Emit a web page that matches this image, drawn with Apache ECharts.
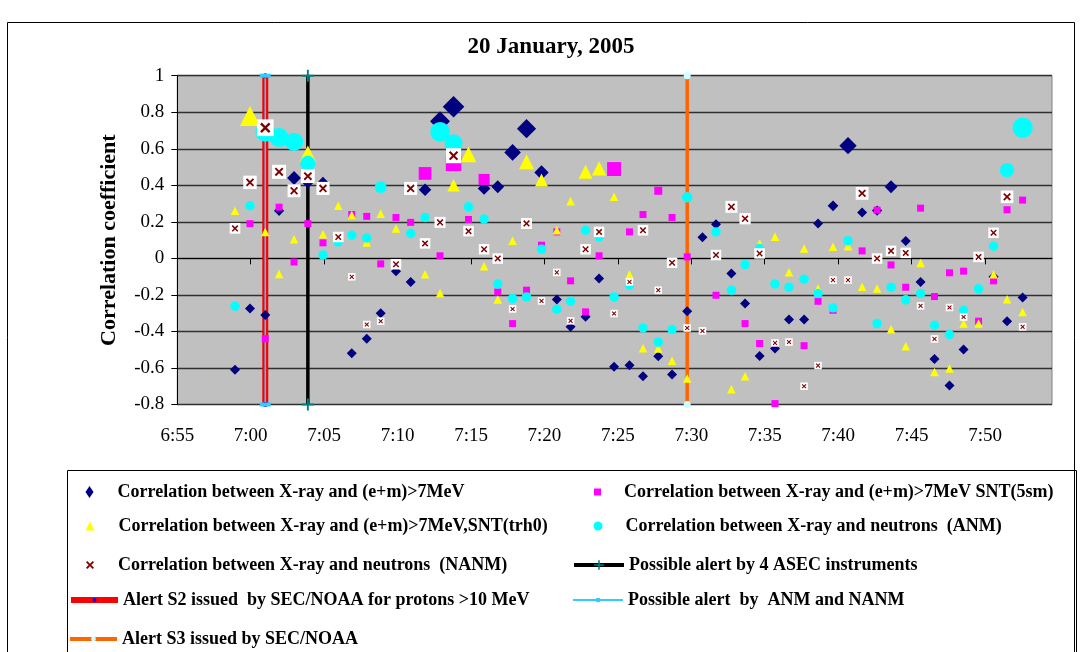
<!DOCTYPE html>
<html><head><meta charset="utf-8">
<script src="https://cdn.jsdelivr.net/npm/echarts@6/dist/echarts.min.js"></script>
<style>html,body{margin:0;padding:0;background:#fff}#c{width:1080px;height:652px}</style>
</head><body><div id="c"></div>
<script>
// x values are minutes after 6:55
const tickLabels = ['6:55','7:00','7:05','7:10','7:15','7:20','7:25','7:30','7:35','7:40','7:45','7:50'];
const times = [3.93,4.95,5.99,6.93,7.95,8.89,9.92,10.96,11.88,12.90,13.85,14.89,15.89,16.87,17.89,18.81,19.83,20.89,21.82,22.83,23.78,24.80,25.84,26.78,27.80,28.72,29.74,30.79,31.71,32.75,33.69,34.72,35.76,36.68,37.73,38.66,39.65,40.70,41.65,42.68,43.63,44.65,45.67,46.63,47.65,48.60,49.60,50.61,51.56,52.58,53.54,54.56,55.58,56.50,57.56];
const emValues = [-0.61,-0.275,-0.31,0.26,0.44,0.42,0.41,null,-0.52,-0.44,-0.30,-0.07,-0.13,0.375,0.75,0.83,null,0.383,0.392,0.58,0.71,0.47,-0.225,-0.375,-0.32,-0.11,-0.594,-0.585,-0.645,-0.536,-0.636,-0.289,0.115,0.187,-0.083,-0.247,-0.534,-0.494,-0.335,-0.335,0.191,0.288,0.617,0.251,0.262,0.392,0.095,-0.129,-0.551,-0.696,-0.499,null,-0.10,-0.344,-0.214];
const snt5smValues = [null,0.19,-0.44,0.28,-0.02,0.19,0.085,null,0.24,0.23,-0.03,0.224,0.197,0.465,0.014,0.52,0.213,0.432,-0.184,-0.357,-0.174,0.072,0.145,-0.123,-0.293,0.014,0.489,0.145,0.24,0.37,0.224,0.008,null,-0.202,null,-0.357,-0.466,-0.795,null,-0.478,-0.235,-0.284,null,0.041,0.264,-0.036,-0.158,0.275,-0.209,-0.079,-0.07,-0.344,-0.123,0.266,0.319];
const trh0Values = [0.26,0.78,0.145,-0.086,0.105,0.575,0.132,0.288,0.237,0.087,0.244,0.164,null,-0.087,-0.189,0.40,0.569,-0.043,-0.225,0.097,0.529,0.429,0.154,0.313,0.474,0.493,0.337,-0.088,-0.492,-0.494,-0.561,-0.658,null,null,-0.717,-0.645,0.082,0.118,-0.076,0.054,-0.165,0.063,0.067,-0.156,-0.165,-0.388,-0.481,-0.025,-0.622,-0.603,-0.357,-0.357,-0.087,-0.224,-0.293];
const anmValues = [-0.262,0.288,0.693,0.662,0.638,0.52,0.018,0.09,0.127,0.112,0.39,null,0.136,0.224,0.693,0.63,0.282,0.215,-0.141,-0.22,-0.211,0.05,-0.278,-0.235,0.154,0.118,-0.211,-0.147,-0.381,-0.459,-0.39,0.335,null,0.145,-0.174,-0.034,0.054,-0.141,-0.158,-0.114,-0.193,-0.271,0.097,null,-0.357,-0.158,-0.227,-0.193,-0.366,-0.417,-0.284,-0.167,0.067,0.483,0.715];
const nanmValues = [0.164,0.416,0.715,0.474,0.37,0.45,0.383,0.117,-0.101,-0.362,-0.344,-0.032,0.383,0.082,0.197,0.562,0.149,0.05,-0.001,-0.277,0.191,-0.233,-0.077,-0.342,0.05,0.145,-0.302,-0.129,0.154,-0.174,-0.024,-0.381,-0.397,0.018,0.282,0.217,0.027,-0.463,-0.458,-0.7,-0.587,-0.119,-0.119,0.356,-0.001,0.041,0.03,-0.26,-0.441,-0.269,-0.321,0.008,0.14,0.337,-0.375];
// alert markers (minutes after 6:55) and vertical span
const asecAlertTime = 8.89;
const s2AlertTime = 5.99;
const anmAlertTime = 5.99;
const s3AlertTime = 34.72;
const yTop = 1, yBottom = -0.8;

const names = {
  em: 'Correlation between X-ray and (e+m)>7MeV',
  s5: 'Correlation between X-ray and (e+m)>7MeV SNT(5sm)',
  trh: 'Correlation between X-ray and (e+m)>7MeV,SNT(trh0)',
  anm: 'Correlation between X-ray and neutrons  (ANM)',
  nanm: 'Correlation between X-ray and neutrons  (NANM)',
  asec: 'Possible alert by 4 ASEC instruments',
  s2: 'Alert S2 issued  by SEC/NOAA for protons >10 MeV',
  anmAlert: 'Possible alert  by  ANM and NANM',
  s3: 'Alert S3 issued by SEC/NOAA'
};

function pairs(vals){ const out=[]; vals.forEach((v,i)=>{ if(v!==null) out.push([times[i], v]); }); return out; }
function vline(t){ return [[t, yTop],[t, yBottom]]; }

const FONT = 'Liberation Serif';
const X_PATH = 'path://M0,1.6 L1.6,0 L5,3.4 L8.4,0 L10,1.6 L6.6,5 L10,8.4 L8.4,10 L5,6.6 L1.6,10 L0,8.4 L3.4,5 Z';
const PLUS_PATH = 'path://M4.2,0 L5.8,0 L5.8,4.2 L10,4.2 L10,5.8 L5.8,5.8 L5.8,10 L4.2,10 L4.2,5.8 L0,5.8 L0,4.2 L4.2,4.2 Z';

const navySize = v => 10 + Math.max(0, v - 0.25) * 20;
const magSize = v => 7 + Math.max(0, v - 0.35) * 50;
const yelSize = v => v > 0.38 ? 12 + (v - 0.38) * 20 : 8.5;
const cyanSize = v => 9.5 + Math.max(0, v - 0.3) * 26;
const boxSize = v => v < -0.05 ? 7.5 : 10.5 + Math.max(0, v - 0.15) * 11;

const legText = {fontFamily: FONT, fontWeight: 'bold', fontSize: 18, color: '#000'};
function leg(name, left, top, w, h, pad, lw){
  const o = {data:[name], left:left, top:top, itemWidth:w, itemHeight:h, padding:0, selectedMode:false,
    textStyle:Object.assign({}, legText, {padding:[0,0,0,pad]})};
  if (lw) o.lineStyle = {width: lw};
  return o;
}

const chart = echarts.init(document.getElementById('c'));
chart.setOption({
  animation:false,
  backgroundColor:'#fff',
  title:{text:'20 January, 2005', left:546, top:31, textAlign:'center',
    textStyle:{fontFamily:FONT, fontWeight:'bold', fontSize:23, color:'#000'}},
  graphic:[
    {type:'rect', z:-1, shape:{x:7.5,y:22.5,width:1067,height:700}, style:{fill:'none', stroke:'#000', lineWidth:1}},
    {type:'rect', z:-1, shape:{x:67.5,y:470.5,width:1009,height:300}, style:{fill:'none', stroke:'#000', lineWidth:1}}
  ],
  legend:[
    leg(names.em, 85.5, 483, 8, 12, 19),
    leg(names.s5, 594, 483, 7, 7, 18),
    leg(names.trh, 85.5, 517, 9, 9, 19),
    leg(names.anm, 593.5, 517, 9, 9, 18),
    leg(names.nanm, 86, 556, 8, 8, 19),
    leg(names.asec, 572, 556, 50, 12, 0, 4),
    leg(names.s2, 68, 591, 47, 5, 0, 6),
    leg(names.anmAlert, 572, 591, 50, 5, 0, 2),
    leg(names.s3, 68, 630, 47, 6, 0, 4)
  ],
  grid:{left:177.3, right:28, top:75.7, bottom:247.5, show:true, backgroundColor:'#C0C0C0', borderColor:'#808080', borderWidth:1},
  xAxis:{type:'value', min:0, max:59.56, interval:5,
    axisLine:{lineStyle:{color:'#000', width:1}},
    axisTick:{show:true, length:6, inside:false, lineStyle:{color:'#000'}},
    axisLabel:{margin:22, showMaxLabel:false, fontFamily:FONT, fontSize:19, color:'#000',
      formatter: v => tickLabels[Math.round(v/5)] || ''},
    splitLine:{show:false}},
  yAxis:{type:'value', min:-0.8, max:1, interval:0.2,
    name:'Correlation coefficient', nameLocation:'middle', nameRotate:90, nameGap:57,
    nameTextStyle:{fontFamily:FONT, fontWeight:'bold', fontSize:22, color:'#000'},
    axisLine:{show:true, lineStyle:{color:'#000', width:1}},
    axisTick:{show:true, length:6, lineStyle:{color:'#000'}},
    axisLabel:{margin:13, fontFamily:FONT, fontSize:19, color:'#000',
      formatter: v => String(Math.round(v*10)/10)},
    splitLine:{show:true, lineStyle:{color:'#303030', width:1.3}}},
  series:[
    {name:names.s2, type:'line', data:vline(s2AlertTime), symbol:'circle', symbolSize:5,
      itemStyle:{color:'#0000FF'}, lineStyle:{color:'#FF0000', width:6}, z:2},
    {name:names.anmAlert, type:'line', data:vline(anmAlertTime), symbol:'rect', symbolSize:[11,4],
      itemStyle:{color:'#33CCFF'}, lineStyle:{color:'#33CCFF', width:1.6}, z:2},
    {name:names.asec, type:'line', data:vline(asecAlertTime), symbol:PLUS_PATH, symbolSize:12,
      itemStyle:{color:'#008080'}, lineStyle:{color:'#000000', width:3.5}, z:2},
    {name:names.s3, type:'line', data:vline(s3AlertTime), symbol:'circle', symbolSize:7,
      itemStyle:{color:'#CCFFFF'}, lineStyle:{color:'#FF6600', width:3.5}, z:2},
    {name:names.em, type:'scatter', data:pairs(emValues), symbol:'diamond',
      symbolSize: d => navySize(d[1]), itemStyle:{color:'#000080', opacity:1}, z:3},
    {name:names.s5, type:'scatter', data:pairs(snt5smValues), symbol:'rect',
      symbolSize: d => magSize(d[1]), itemStyle:{color:'#FF00FF', opacity:1}, z:3},
    {name:names.trh, type:'scatter', data:pairs(trh0Values), symbol:'triangle',
      symbolSize: d => yelSize(d[1]), itemStyle:{color:'#FFFF00', opacity:1}, z:3},
    {name:names.anm, type:'scatter', data:pairs(anmValues), symbol:'circle',
      symbolSize: d => cyanSize(d[1]), itemStyle:{color:'#00FFFF', opacity:1}, z:3},
    {name:'nanmBox', type:'scatter', data:pairs(nanmValues), symbol:'rect',
      symbolSize: d => boxSize(d[1]), itemStyle:{color:'#FFFFFF', opacity:1}, z:3, silent:true},
    {name:names.nanm, type:'scatter', data:pairs(nanmValues), symbol:X_PATH,
      symbolSize: d => boxSize(d[1]) * 0.62, itemStyle:{color:'#800000', opacity:1}, z:3}
  ]
});
</script></body></html>
